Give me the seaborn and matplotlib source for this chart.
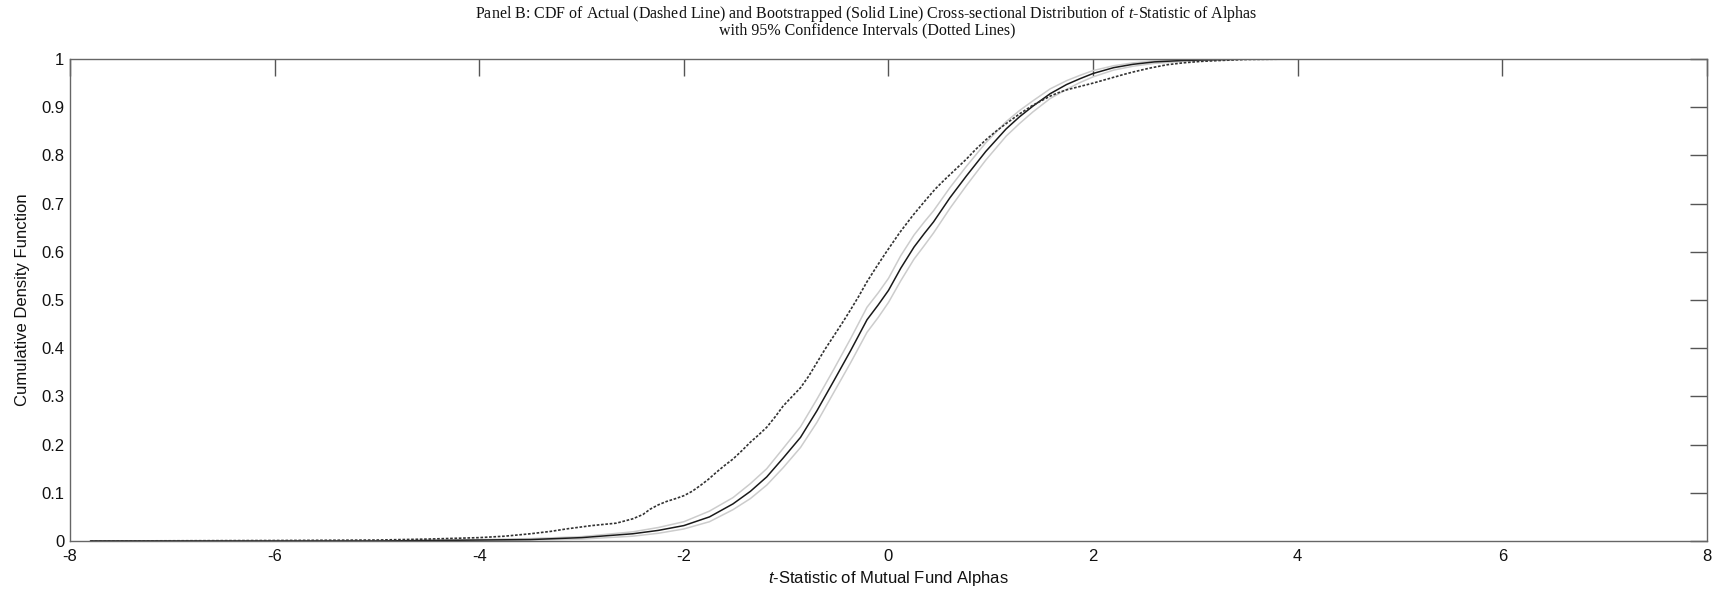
import matplotlib
matplotlib.use("Agg")
import matplotlib.pyplot as plt
import seaborn as sns
import pandas as pd

# Actual cross-sectional CDF (dashed)
act_t = [-7.8, -6.0, -5.0, -4.5, -4.0, -3.75, -3.5, -3.3, -3.15, -2.9, -2.66, -2.5,
         -2.4, -2.33, -2.25, -2.17, -2.08, -2.0, -1.92, -1.84, -1.76, -1.68, -1.6,
         -1.52, -1.43, -1.35, -1.27, -1.19, -1.11, -1.03, -0.95, -0.86, -0.78, -0.7,
         -0.62, -0.53, -0.45, -0.37, -0.29, -0.21, -0.12, -0.02, 0.11, 0.24, 0.37,
         0.46, 0.56, 0.66, 0.76, 0.85, 0.95, 1.05, 1.15, 1.28, 1.41, 1.5, 1.58, 1.66,
         1.74, 1.87, 2.0, 2.1, 2.2, 2.3, 2.39, 2.55, 2.72, 2.88, 3.05, 3.25, 3.5,
         4.0, 6.65]
act_cdf = [0.0, 0.001, 0.002, 0.004, 0.007, 0.010, 0.015, 0.020, 0.025, 0.032, 0.037,
           0.046, 0.055, 0.066, 0.075, 0.082, 0.088, 0.094, 0.103, 0.115, 0.128, 0.143,
           0.157, 0.170, 0.188, 0.205, 0.220, 0.236, 0.257, 0.280, 0.298, 0.318, 0.342,
           0.370, 0.398, 0.427, 0.453, 0.480, 0.508, 0.538, 0.568, 0.600, 0.640, 0.676,
           0.709, 0.731, 0.752, 0.772, 0.792, 0.812, 0.832, 0.850, 0.866, 0.886, 0.904,
           0.914, 0.923, 0.930, 0.936, 0.943, 0.950, 0.956, 0.962, 0.968, 0.973, 0.981,
           0.988, 0.992, 0.995, 0.997, 0.999, 1.0, 1.0]

# Bootstrapped CDF (solid) with 95% CI (dotted, light)
bs_t = [-7.8, -5.0, -4.0, -3.5, -3.0, -2.5, -2.25, -2.0, -1.75, -1.52, -1.35, -1.19,
        -1.03, -0.86, -0.7, -0.53, -0.37, -0.21, -0.1, 0.0, 0.12, 0.25, 0.35, 0.44,
        0.6, 0.76, 0.95, 1.15, 1.28, 1.41, 1.58, 1.74, 1.87, 2.0, 2.2, 2.39, 2.6,
        2.88, 3.5, 4.5]
bs_cdf = [0.0, 0.0, 0.002, 0.003, 0.007, 0.015, 0.022, 0.032, 0.050, 0.077, 0.103,
          0.133, 0.172, 0.215, 0.270, 0.334, 0.395, 0.459, 0.490, 0.520, 0.566, 0.610,
          0.638, 0.662, 0.712, 0.757, 0.808, 0.855, 0.880, 0.902, 0.928, 0.947, 0.959,
          0.970, 0.982, 0.989, 0.994, 0.997, 1.0, 1.0]
ci_hi = [0.0, 0.0, 0.003, 0.005, 0.009, 0.019, 0.028, 0.040, 0.062, 0.090, 0.119,
         0.150, 0.192, 0.237, 0.294, 0.358, 0.420, 0.485, 0.515, 0.545, 0.592, 0.635,
         0.662, 0.685, 0.733, 0.777, 0.826, 0.870, 0.893, 0.913, 0.938, 0.955, 0.966,
         0.976, 0.986, 0.992, 0.996, 0.998, 1.0, 1.0]
ci_lo = [0.0, 0.0, 0.001, 0.002, 0.004, 0.010, 0.016, 0.025, 0.040, 0.065, 0.088,
         0.116, 0.152, 0.194, 0.246, 0.310, 0.370, 0.433, 0.464, 0.495, 0.540, 0.585,
         0.613, 0.639, 0.690, 0.737, 0.790, 0.840, 0.866, 0.890, 0.918, 0.937, 0.951,
         0.963, 0.977, 0.985, 0.991, 0.995, 1.0, 1.0]

x_ticks = [-8, -6, -4, -2, 0, 2, 4, 6, 8]
y_ticks = [0, 0.1, 0.2, 0.3, 0.4, 0.5, 0.6, 0.7, 0.8, 0.9, 1]
y_ticklabels = ["0", "0.1", "0.2", "0.3", "0.4", "0.5", "0.6", "0.7", "0.8", "0.9", "1"]

sns.set_theme(style="white")
plt.rcParams['font.family'] = ['Liberation Sans', 'DejaVu Sans']
plt.rcParams['mathtext.fontset'] = 'custom'
plt.rcParams['mathtext.it'] = 'Liberation Serif:italic'
plt.rcParams['mathtext.sf'] = 'Liberation Sans:italic'
plt.rcParams['mathtext.rm'] = 'Liberation Serif'

fig = plt.figure(figsize=(17.13, 5.89), dpi=100)
ax = fig.add_axes([70/1713, 48/589, (1707-70)/1713, (541-59)/589])

df_act = pd.DataFrame({"t": act_t, "cdf": act_cdf})
df_bs = pd.DataFrame({"t": bs_t, "cdf": bs_cdf, "hi": ci_hi, "lo": ci_lo})

sns.lineplot(data=df_bs, x="t", y="hi", ax=ax, color="#cccccc", lw=1.1,
             sort=False, estimator=None)
sns.lineplot(data=df_bs, x="t", y="lo", ax=ax, color="#cccccc", lw=1.1,
             sort=False, estimator=None)
sns.lineplot(data=df_bs, x="t", y="cdf", ax=ax, color="#1a1a1a", lw=1.1,
             sort=False, estimator=None)
sns.lineplot(data=df_act, x="t", y="cdf", ax=ax, color="#333333", lw=1.2,
             linestyle=(0, (1.6, 1.0)), sort=False, estimator=None)

ax.set_xlim(-8, 8)
ax.set_ylim(0, 1)
ax.set_xticks(x_ticks)
ax.set_xticklabels([str(v) for v in x_ticks])
ax.set_yticks(y_ticks)
ax.set_yticklabels(y_ticklabels)
ax.tick_params(direction="in", length=12, width=1, color="#555555",
               top=True, right=True, labelsize=12, labelcolor="#111111")
ax.tick_params(axis="x", pad=6)
ax.tick_params(axis="y", pad=4)
for s in ax.spines.values():
    s.set_color("#666666")
    s.set_linewidth(1.0)

ax.set_xlabel("$\\mathsf{t}$-Statistic of Mutual Fund Alphas", fontsize=12,
              labelpad=3, color="#111111")
ax.set_ylabel("Cumulative Density Function", fontsize=12, labelpad=8, color="#111111")

fig.text(0.506, 1 - 14/589,
         "Panel B: CDF of Actual (Dashed Line) and Bootstrapped (Solid Line) "
         "Cross-sectional Distribution of $\\mathit{t}$-Statistic of Alphas",
         ha="center", va="center", fontsize=11.5, family="Liberation Serif",
         color="#111111")
fig.text(0.506, 1 - 30/589, "with 95% Confidence Intervals (Dotted Lines)",
         ha="center", va="center", fontsize=11.5, family="Liberation Serif",
         color="#111111")

fig.savefig("out.png", dpi=100)
